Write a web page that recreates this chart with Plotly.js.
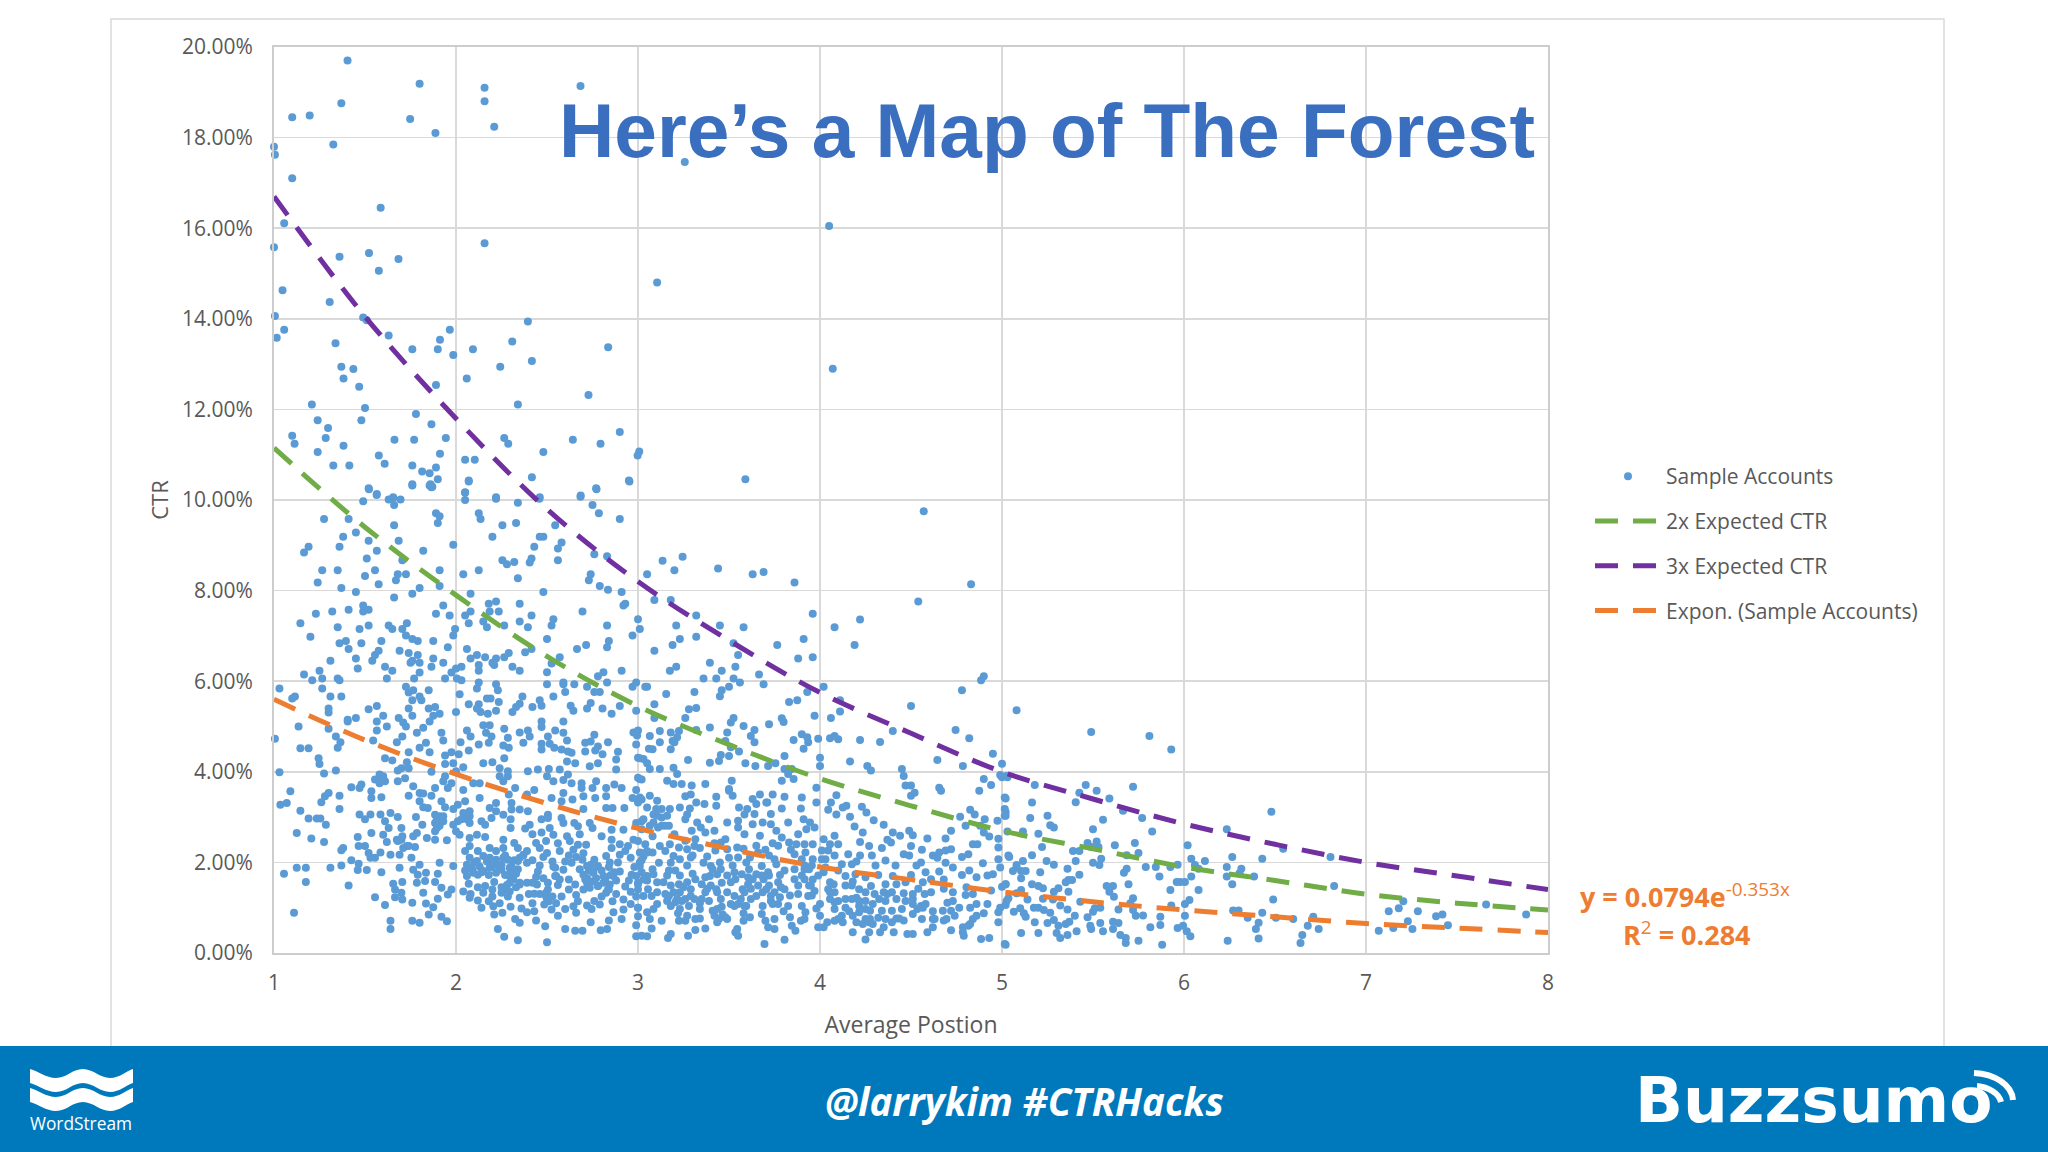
<!DOCTYPE html>
<html><head><meta charset="utf-8">
<script src="https://cdn.plot.ly/plotly-3.0.1.min.js"></script>
<style>html,body{margin:0;padding:0;background:#fff}#chart{width:2048px;height:1152px}</style>
</head><body><div id="chart"></div>
<script>
const curveX = [1,1.5,2,2.5,3,3.5,4,4.5,5,5.5,6,6.5,7,7.5,8];
const expected2x = [11.15,9.4,7.9,6.55,5.45,4.6,3.85,3.25,2.7,2.3,1.9,1.6,1.3,1.1,0.95];
const expected3x = [16.7,14.05,11.8,9.8,8.2,6.9,5.75,4.85,4.0,3.4,2.85,2.4,2.0,1.7,1.4];
const exponFit = [5.6,4.7,3.95,3.3,2.75,2.3,1.9,1.62,1.35,1.13,0.95,0.8,0.65,0.55,0.45];
const yTicks = [0,2,4,6,8,10,12,14,16,18,20];
const xTicks = [1,2,3,4,5,6,7,8];
const sampleAccounts = [
[1.404,19.7],[1.8,19.19],[1.37,18.76],[1.1,18.45],[1.196,18.49],[1.748,18.41],[1.887,18.1],[2.157,19.1],[2.157,18.8],[2.21,18.24],[2.684,19.14],[3.257,17.46],[1,17.8],[1.005,17.62],[1.326,17.85],[1.1,17.1],[1.586,16.45],[1.056,16.11],[1,15.58],[1.36,15.37],[1.522,15.45],[1.576,15.06],[1.684,15.32],[2.157,15.67],[3.105,14.8],[1.047,14.63],[1.306,14.37],[1.005,14.06],[1.056,13.76],[1.015,13.58],[1.49,14.03],[1.51,13.97],[1.63,13.63],[2.395,13.94],[1.966,13.76],[1.912,13.54],[1.9,13.33],[1.76,13.33],[1.338,13.46],[1.37,12.94],[1.436,12.89],[1.382,12.68],[1.468,12.5],[1.985,13.2],[2.093,13.33],[2.309,13.5],[2.243,12.94],[2.417,13.07],[2.836,13.37],[1.89,12.54],[2.059,12.68],[2.728,12.32],[2.34,12.11],[1.208,12.11],[1.5,12.03],[1.78,11.9],[1.48,11.76],[1.24,11.76],[1.865,11.67],[1.297,11.59],[2.9,11.5],[1.1,11.42],[1.284,11.37],[1.944,11.37],[2.265,11.37],[1.662,11.33],[1.77,11.33],[2.642,11.33],[1.113,11.24],[2.287,11.24],[2.794,11.24],[1.382,11.2],[1.24,11.06],[2.48,11.06],[3.007,11.07],[2.998,10.98],[1.912,11.02],[1.576,10.98],[1.608,10.8],[2.05,10.89],[2.103,10.89],[1.326,10.76],[1.414,10.76],[1.76,10.76],[1.89,10.72],[1.814,10.63],[1.855,10.59],[1.9,10.46],[2.417,10.5],[2.07,10.41],[2.953,10.41],[3.59,10.46],[1.76,10.32],[1.855,10.32],[1.865,10.28],[1.522,10.24],[2.772,10.24],[1.564,10.11],[2.05,10.16],[1.654,10.04],[2.22,10.03],[2.684,10.07],[2.458,10.03],[4.05,16.05],[4.07,12.9],
[1.52,10.26],[1.565,10.13],[1.76,10.35],[1.86,10.35],[1.87,10.29],[2.07,10.43],[2.05,10.17],[2.05,10],[2.22,10.06],[2.46,10.06],[2.685,10.1],[2.77,10.26],[2.95,10.43],[1.49,9.97],[1.63,10.01],[1.655,10.06],[1.695,10.01],[1.66,9.89],[2.34,9.94],[2.75,9.89],[2.785,9.71],[1.275,9.58],[1.41,9.58],[1.89,9.71],[1.91,9.64],[1.9,9.49],[2.125,9.71],[2.135,9.58],[2.9,9.58],[1.66,9.44],[2.255,9.44],[2.33,9.49],[2.545,9.44],[1.45,9.28],[1.38,9.19],[2.2,9.19],[2.46,9.19],[2.48,9.19],[1.52,9.1],[1.685,9.1],[2.58,9.06],[2.56,8.93],[2.43,8.97],[1.19,8.97],[1.165,8.84],[1.36,8.97],[1.985,9.01],[1.565,8.88],[1.82,8.88],[1.51,8.71],[1.705,8.67],[2.255,8.67],[2.28,8.58],[2.32,8.63],[2.415,8.71],[2.405,8.62],[2.56,8.67],[2.76,8.8],[2.83,8.76],[1.265,8.45],[1.35,8.45],[1.555,8.45],[1.91,8.45],[2.125,8.45],[2.04,8.36],[2.34,8.27],[2.74,8.36],[2.73,8.23],[1.24,8.18],[1.5,8.32],[1.68,8.36],[1.725,8.36],[1.67,8.23],[1.575,8.14],[1.91,8.1],[1.37,8.06],[2.79,8.1],[2.835,8.02],[3.05,8.36],[1.45,7.97],[1.8,8.06],[1.76,7.93],[1.66,7.85],[2.08,7.93],[2.48,7.97],[2.91,7.97],[1.49,7.67],[1.49,7.54],[1.52,7.58],[1.41,7.58],[1.32,7.54],[1.23,7.49],[1.93,7.67],[1.89,7.49],[1.965,7.45],[2.18,7.71],[2.22,7.76],[2.185,7.54],[2.235,7.54],[2.35,7.71],[2.415,7.45],[2.695,7.54],[2.93,7.71],[2.92,7.67],[2.05,7.45],[2.08,7.54],[1.145,7.28],[1.35,7.19],[1.47,7.15],[1.52,7.23],[1.63,7.23],[1.65,7.15],[1.73,7.28],[1.705,7.15],[2.07,7.28],[2.15,7.32],[2.17,7.19],[2.265,7.23],[2.35,7.32],[2.395,7.19],[2.535,7.37],[2.525,7.23],[2.83,7.23],[3,7.37],[3.01,7.15],[1.995,7.15],[1.985,7.01],[1.2,6.98],[1.725,7.01],[1.76,6.93],[1.79,6.89],[1.395,6.89],[1.36,6.84],[1.48,6.84],[1.59,6.89],[1.875,6.89],[1.955,6.75],[2.5,6.93],[2.84,6.89],[2.83,6.75],[2.97,7.01],[1.41,6.71],[1.69,6.67],[1.575,6.67],[1.555,6.58],[1.54,6.45],[1.74,6.62],[1.79,6.58],[1.76,6.45],[1.75,6.41],[2.06,6.71],[2.665,6.71],[2.715,6.8],[2.38,6.64],[2.415,6.71],[2.08,6.5],[2.115,6.58],[2.16,6.53],[2.29,6.62],[2.265,6.53],[2.22,6.5],[2.2,6.41],[2.57,6.53],[1.45,6.5],[1.31,6.45],[1.8,6.41],[1.875,6.5],[1.865,6.32],[1.93,6.41],[2.525,6.39],[2.125,6.36],[2.125,6.23],[2.21,6.36],[2.31,6.32],[1.61,6.32],[1.65,6.23],[1.46,6.28],[1.25,6.23],[1.165,6.15],[1.8,6.19],[2.03,6.32],[2,6.28],[1.975,6.19],[2.35,6.23],[2.5,6.2],[2.91,6.23],[2.81,6.2],[2.78,6.11],[1.21,6.02],[1.265,6.06],[1.35,6.06],[1.36,6.02],[1.62,6.06],[1.77,6.06],[1.94,6.06],[2.005,6.06],[2.03,6.02],[1.03,5.84],[1.265,5.84],[2.125,5.97],[2.115,5.84],[2.22,5.93],[2.23,5.8],[2.5,5.93],[2.59,5.97],[2.59,5.93],[2.65,5.93],[2.72,5.88],[2.83,5.97],[2.99,5.97],[2.97,5.88],[3.05,5.88],[1.725,5.88],[1.74,5.75],[1.765,5.8],[1.85,5.8],[2.02,5.71],[2.6,5.76],[2.76,5.76],[2.79,5.76],[1.115,5.66],[1.1,5.62],[1.31,5.66],[1.37,5.66],[1.8,5.66],[1.81,5.58],[1.76,5.58],[2.17,5.62],[2.19,5.62],[2.365,5.66],[2.535,5.66],[2.07,5.49],[2.235,5.54],[2.125,5.49],[2.115,5.4],[2.135,5.32],[2.35,5.5],[2.33,5.43],[2.31,5.32],[2.46,5.58],[2.42,5.43],[2.47,5.46],[2.63,5.46],[2.645,5.35],[2.74,5.52],[2.72,5.4],[2.805,5.4],[2.9,5.45],[2.99,5.35],[2.855,5.28],[1.565,5.45],[1.52,5.38],[1.3,5.4],[1.3,5.31],[1.74,5.4],[1.76,5.24],[1.85,5.4],[1.885,5.43],[1.91,5.28],[1.875,5.24],[2,5.32],[2.22,5.35],[2.175,5.28],[1.45,5.19],[1.6,5.24],[1.685,5.19],[1.405,5.15],
[4.57,9.75],[3.135,8.66],[3.245,8.75],[3.2,8.45],[3.44,8.49],[3.63,8.36],[3.69,8.41],[3.86,8.18],[4.83,8.14],[4.54,7.76],[3.09,7.79],[3.18,7.79],[3.32,7.45],[3.96,7.49],[4.22,7.36],[4.08,7.19],[3.21,7.23],[3.45,7.23],[3.58,7.19],[3.32,6.98],[3.23,6.93],[3.19,6.8],[3.91,6.93],[3.525,6.84],[3.765,6.8],[4.19,6.8],[3.09,6.67],[3.55,6.58],[3.88,6.5],[3.96,6.53],[3.395,6.41],[3.535,6.32],[3.21,6.32],[3.175,6.23],[3.46,6.23],[3.665,6.15],[4.9,6.11],[4.885,6.02],[3.36,6.06],[3.43,6.06],[3.525,6.06],[3.56,5.97],[3.69,5.93],[4.02,5.88],[3.5,5.88],[3.04,5.88],[4.78,5.8],[3.46,5.8],[3.45,5.67],[3.31,5.76],[3.155,5.72],[3.93,5.76],[4.11,5.58],[3.875,5.58],[3.83,5.54],[3.09,5.49],[4.5,5.45],[3.32,5.41],[3.28,5.38],[4.11,5.33],[5.08,5.36],[3.97,5.24],[4.06,5.19],[3.525,5.19],[3.26,5.19],[3.79,5.18],[3.09,5.19],
[1.135,5],[1.3,4.95],[1.405,5.11],[1.565,5.11],[1.565,4.91],[1.62,5],[1.71,5.09],[1.725,5],[1.705,4.78],[1.785,4.86],[1.82,4.97],[1.855,5.11],[1.92,4.86],[1.93,4.69],[1.005,4.73],[1.34,4.78],[1.365,4.65],[1.35,4.53],[1.545,4.69],[1.675,4.65],[1.145,4.52],[1.19,4.52],[1.835,4.64],[1.8,4.53],[1.855,4.43],[1.74,4.43],[2.06,4.91],[2.08,4.78],[2.15,5.03],[2.185,5.03],[2.165,4.86],[2.195,4.78],[2.18,4.64],[2.265,4.95],[2.35,4.87],[2.395,4.91],[2.405,4.78],[2.37,4.64],[2.285,4.75],[2.26,4.58],[2.29,4.53],[2.125,4.6],[2.025,4.65],[2.07,4.47],[1.975,4.43],[2.015,4.39],[1.94,4.36],[2.47,5.11],[2.47,4.99],[2.59,5.11],[2.545,4.91],[2.59,4.86],[2.505,4.78],[2.61,4.69],[2.47,4.62],[2.515,4.62],[2.54,4.53],[2.47,4.49],[2.58,4.49],[2.615,4.45],[2.635,4.42],[2.76,4.82],[2.71,4.64],[2.74,4.67],[2.78,4.56],[2.71,4.45],[2.765,4.47],[2.805,4.39],[2.835,4.65],[2.89,4.44],[2.975,4.87],[3,4.91],[2.995,4.8],[2.99,4.6],[3.01,4.3],[2.88,4.27],[1.245,4.3],[1.25,4.17],[1.275,3.96],[1.03,3.99],[1.34,4.03],[1.61,4.3],[1.65,4.25],[1.73,4.21],[1.7,4.08],[1.68,4.03],[1.74,4.08],[1.865,4],[1.94,4.17],[1.94,3.9],[1.985,4.19],[2.04,4.1],[2,4.01],[1.93,3.79],[1.975,3.75],[1.955,3.64],[2.15,4.19],[2.2,4.21],[2.265,4.3],[2.24,4.08],[2.285,4.01],[2.24,3.9],[2.26,3.79],[2.285,3.9],[2.13,3.75],[2.095,3.75],[2.04,3.6],[2.05,3.35],[2.01,3.27],[2.395,4.01],[2.45,4.05],[2.51,4.06],[2.57,4.05],[2.615,3.94],[2.5,3.9],[2.535,3.79],[2.59,3.82],[2.635,3.75],[2.61,4.23],[2.655,4.19],[2.735,4.12],[2.78,4.19],[2.88,4.05],[3.02,3.83],[3.05,4.19],[2.69,3.75],[2.69,3.64],[2.77,3.79],[2.75,3.64],[2.825,3.64],[2.87,3.72],[2.91,3.64],[2.7,3.46],[2.765,3.42],[2.825,3.46],[2.99,3.6],[2.97,3.42],[3.02,3.39],[1.58,3.94],[1.555,3.83],[1.61,3.79],[1.58,3.75],[1.68,3.79],[1.72,3.86],[1.765,3.68],[1.8,3.53],[1.82,3.52],[1.865,3.47],[1.425,3.66],[1.47,3.64],[1.48,3.72],[1.535,3.57],[1.535,3.42],[1.59,3.44],[1.3,3.53],[1.28,3.46],[1.26,3.33],[1.36,3.47],[1.36,3.18],[1.09,3.57],[1.74,3.47],[1.885,3.64],[1.07,3.31],[1.035,3.27],[1.145,3.14],[1.19,2.97],[1.235,2.97],[1.255,2.97],[1.285,2.83],[1.125,2.65],[1.205,2.53],[1.275,2.45],[1.8,3.35],[1.82,3.22],[1.845,3.2],[1.92,3.35],[1.94,3.22],[1.985,3.18],[1.47,3.06],[1.5,2.95],[1.53,3.06],[1.585,3.06],[1.64,3.09],[1.68,3],[1.78,3],[1.61,2.91],[1.63,2.76],[1.885,3.05],[1.91,3.02],[1.93,2.91],[1.885,2.87],[1.91,2.81],[1.815,2.83],[1.885,2.69],[1.84,2.54],[1.885,2.5],[1.95,2.49],[2.075,3.13],[2.06,2.95],[2.01,2.91],[1.985,2.83],[2.075,2.87],[2,2.69],[2.02,2.61],[2.14,2.91],[2.16,2.83],[2.195,2.98],[2.185,3.2],[2.22,3.13],[2.26,3.05],[2.305,3.17],[2.35,3.17],[2.395,3.13],[2.13,3.42],[2.22,3.31],[2.29,3.5],[2.305,3.31],[2.325,3.64],[2.43,3.6],[2.39,3.5],[2.525,3.42],[2.59,3.53],[2.58,3.35],[2.64,3.39],[2.7,3.18],[2.825,3.2],[2.86,3.2],[2.925,3.2],[2.3,2.95],[2.3,2.76],[2.405,2.83],[2.505,3.05],[2.47,2.95],[2.505,2.98],[2.58,2.98],[2.59,2.87],[2.65,2.87],[2.67,2.8],[2.735,2.87],[2.75,2.76],[2.515,2.76],[2.535,2.61],[2.495,2.47],[2.44,2.43],[2.855,2.72],[2.855,2.5],[2.855,2.32],[2.975,2.5],[2.945,2.36],[2.99,2.87],[3.02,2.91],[2.115,2.61],[2.075,2.54],[2.16,2.56],[2.26,2.5],[2.32,2.43],[1.46,2.56],[1.535,2.65],[1.6,2.61],[1.62,2.45],[1.7,2.76],[1.705,2.58],[1.68,2.47],[1.765,2.58],[1.74,2.36],[1.71,2.32],[1.785,2.65],[1.775,2.34],[1.465,2.36],[1.5,2.36],[1.38,2.32],[1.37,2.27],[1.585,2.22],[1.64,2.17],[1.69,2.17],[1.755,2.1],[1.52,2.21],[1.53,2.1],[1.555,2.1],[1.425,2.05],[1.465,1.97],[1.46,1.83],[1.51,1.83],[1.59,1.78],[1.31,1.88],[1.37,1.93],[1.125,1.88],[1.175,1.88],[1.055,1.75],[1.175,1.57],[1.41,1.49],[1.11,0.89],[1.69,1.88],[1.765,1.84],[1.8,1.95],[1.79,1.73],[1.835,1.77],[1.785,1.55],[1.83,1.59],[1.91,1.99],[1.9,1.75],[1.985,1.92],[1.885,1.57],[1.705,1.57],[1.655,1.53],[1.665,1.4],[1.7,1.33],[1.665,1.23],[1.705,1.18],[1.92,1.44],[1.975,1.4],[1.955,1.29],[1.82,1.33],[1.555,1.23],[1.9,1.2],[1.76,1.11],[1.61,1.06],[1.835,1.09],[1.875,1.01],[1.85,0.85],[1.92,0.8],[1.95,0.7],[1.64,0.71],[1.64,0.53],[1.76,0.71],[1.8,0.67],
[2.075,2.36],[2.05,2.25],[2.12,2.25],[2.185,2.32],[2.22,2.25],[2.26,2.32],[2.34,2.32],[2.39,2.25],[2.075,2.1],[2.15,2.14],[2.22,2.06],[2.285,2.06],[2.35,2.1],[2.46,2.32],[2.5,2.21],[2.57,2.25],[2.625,2.47],[2.67,2.39],[2.715,2.39],[2.645,2.28],[2.06,1.95],[2.13,1.91],[2.185,1.88],[2.25,1.95],[2.305,1.91],[2.39,1.99],[2.46,1.93],[2.535,1.91],[2.59,1.84],[2.635,1.99],[2.695,2.06],[2.76,2.06],[2.825,2.14],[2.9,2.17],[2.06,1.7],[2.12,1.73],[2.22,1.77],[2.295,1.7],[2.545,1.7],[2.7,1.73],[2.755,1.77],[2.81,1.7],[2.9,1.8],[2.965,1.73],[2.07,1.53],[2.21,1.57],[2.35,1.51],[2.42,1.55],[2.315,1.62],[2.505,1.55],[2.655,1.51],[2.72,1.55],[2.81,1.55],[2.845,1.51],[2.93,1.47],[3,1.55],[2.04,1.36],[2.15,1.33],[2.25,1.33],[2.295,1.36],[2.35,1.22],[2.43,1.31],[2.495,1.33],[2.7,1.4],[2.825,1.33],[2.86,1.14],[2.99,1.25],[2.92,1.18],[2.075,1.22],[2.12,1.16],[2.18,1.14],[2.205,1.03],[2.24,1.1],[2.42,1.1],[2.485,1.07],[2.525,0.96],[2.6,0.97],[2.67,1.14],[2.645,1.03],[2.745,0.97],[2.79,1.07],[2.865,0.9],[2.92,0.96],[3,1],[2.39,0.9],[2.43,0.92],[2.21,0.85],[2.255,0.89],[2.66,0.89],[2.91,0.75],[3,0.81],[2.325,0.75],[2.35,0.67],[2.23,0.53],[2.49,0.59],[2.6,0.53],[2.655,0.49],[2.695,0.49],[2.795,0.5],[2.83,0.53],[2.99,0.61],[2.99,0.37],[3.05,0.37],[2.265,0.36],[2.34,0.28],[2.5,0.24],[2.1,2],[2.17,2.02],[2.2,1.98],[2.27,2.15],[2.32,2.05],[2.37,2.15],[2.42,2.05],[2.24,1.85],[2.3,1.8],[2.34,1.85],[2.14,1.78],[2.18,1.72],[2.27,1.72],[2.33,1.75],[2.05,1.82],[2.09,1.85],[2.62,2.15],[2.66,2.12],[2.7,2.2],[2.74,1.95],[2.78,1.9],[2.73,1.82],[2.77,1.65],[2.8,1.82],[2.84,1.9],[2.87,1.78],[2.72,1.65],[2.75,1.58],[2.78,1.48],[2.82,1.62],[2.85,1.72],[2.88,1.6],[2.84,1.4],[2.88,1.3],[2.8,1.25],[2.76,1.15],[2.95,1.6],[2.98,1.9],[3.02,2.05],[2.96,2.1],[2.93,2.25],[2.9,2.4],[2.56,1.5],[2.5,1.2],[2.46,1.3],[2.53,1.25],[2.55,1.1],[2.48,1.65],[2.45,1.8],[2.4,1.3],[2.33,1.45],[2.28,1.5],[2.25,1.45],[2.2,1.4],[2.16,1.48],[2.12,1.45],[2.08,1.3],
[3.32,4.92],[3.395,4.98],[3.51,5.09],[3.49,4.87],[3.48,4.68],[3.58,5.01],[3.72,5.05],[3.8,5.1],[3.64,4.92],[3.62,4.79],[3.64,4.65],[3.065,4.79],[3.12,4.9],[3.12,4.65],[3.18,4.87],[3.225,4.9],[3.215,4.76],[3.19,4.68],[3.2,4.65],[3.18,4.5],[3.06,4.51],[3.08,4.5],[3.51,4.54],[3.555,4.45],[3.455,4.37],[3.445,4.24],[3.5,4.35],[3.395,4.2],[3.275,4.26],[3.59,4.19],[3.645,4.13],[3.715,4.13],[3.755,4.19],[3.805,4.35],[3.855,4.7],[3.9,4.83],[3.93,4.76],[3.935,4.65],[3.91,4.51],[3.99,4.73],[4.08,4.79],[4.055,4.74],[4.1,4.72],[4.22,4.7],[4.33,4.66],[4.4,4.9],[4.745,4.92],[4.82,4.74],[4.95,4.4],[5,4.18],[4.645,4.26],[4.785,4.13],[4,4.31],[4,4.13],[4.165,4.23],[4.26,4.13],[4.28,4.03],[4.45,4.06],[4.46,3.91],[4.47,3.7],[4.5,3.7],[4.52,3.54],[4.5,3.47],[4.655,3.65],[4.665,3.58],[4.875,3.58],[4.9,3.84],[4.94,3.71],[4.99,3.93],[5.025,3.91],[3.805,4.06],[3.845,4.06],[3.825,3.95],[3.855,3.84],[3.79,3.8],[3.98,3.65],[4.09,3.48],[3.98,3.32],[4.06,3.32],[4.045,3.16],[4.09,3.06],[4.145,3.25],[4.125,3.21],[4.165,3.01],[4.23,3.23],[4.255,3.1],[4.295,2.93],[4.35,2.83],[4.19,2.79],[4.235,2.66],[3.9,3.43],[3.805,3.45],[3.74,3.5],[3.67,3.5],[3.63,3.4],[3.895,3.19],[3.79,3.19],[3.705,3.32],[3.73,3.07],[3.64,3.07],[3.63,2.84],[3.685,2.88],[3.73,2.84],[3.825,2.88],[3.91,2.95],[3.945,2.88],[3.97,2.77],[3.925,2.73],[3.88,2.62],[3.87,2.4],[3.76,2.7],[3.79,2.55],[3.77,2.37],[3.83,2.44],[3.67,2.59],[3.585,2.62],[5.015,3.43],[5.015,3.18],[5.015,3.03],[4.975,2.92],[4.905,2.95],[4.88,2.81],[4.9,2.66],[4.93,2.57],[4.98,2.52],[4.98,2.33],[4.98,2.07],[5.035,2.15],[4.825,3.16],[4.85,3.06],[4.77,3.01],[4.8,2.81],[4.84,2.4],[4.865,2.4],[4.815,2.18],[4.72,2.7],[4.69,2.53],[4.59,2.53],[4.49,2.7],[4.51,2.6],[4.44,2.59],[4.4,2.66],[4.37,2.5],[4.39,2.44],[4.5,2.36],[4.22,2.45],[4.27,2.36],[4.22,2.15],[4.285,2.15],[4.155,2.18],[4.08,2.59],[4.1,2.4],[4.055,2.4],[4.02,2.51],[4.01,2.26],[4.045,2.26],[4.01,2.07],[3.96,2.4],[3.915,2.4],[4.62,2.15],[4.655,2.22],[4.69,2.26],[4.72,2.29],[4.69,1.99],[4.645,2.1],[4.46,2.18],[4.49,2.15],[4.415,1.93],[4.36,2.04],[4.305,1.93],[4.555,2],[4.53,1.93],[4.655,1.8],[4.73,1.89],[4.895,1.98],[4.99,1.89],[5.08,1.89],[4.86,1.67],[4.92,1.71],[4.95,1.74],[5.02,1.52],[4.805,1.45],[4.12,1.96],[4.175,1.96],[4.14,1.7],[4.195,1.74],[4.25,1.67],[4.36,1.52],[4.42,1.52],[4.47,1.56],[4.35,1.34],[4.42,1.19],[4.565,1.56],[4.61,1.63],[4.61,1.34],[4.575,1.3],[4.51,1.3],[4.51,1.08],[4.555,1.04],[4.58,1.08],[4.51,0.86],[4.45,0.97],[4.73,1.34],[4.73,1.15],[4.765,1],[4.675,0.93],[4.74,0.82],[4.695,0.75],[4.84,1.3],[4.86,1.08],[4.825,1],[4.84,0.75],[4.785,0.57],[4.825,0.64],[4.56,0.75],[4.42,0.76],[4.435,0.76],[4.34,0.93],[4.395,0.93],[4.63,0.75],[4.62,0.57],[4.59,0.46],[4.72,0.5],[4.35,0.57],[4.33,0.46],[4.405,0.46],[4.48,0.42],[4.51,0.42],[4.885,0.31],[4.93,0.33],[4.79,0.38],[4.98,0.68],[4.98,0.9],[5.025,1.15],[4.99,1],[5.015,0.2],[4.25,0.3],[4.18,0.46],[4.27,0.46],[4.275,0.75],[4.215,0.9],[4.25,0.97],[4.27,0.68],[4.175,1.19],[4.215,1.15],[4.29,1.08],[4.08,1.34],[4.055,1.56],[4.055,1.34],[4.1,1.15],[4.08,0.97],[4.02,0.57],[3.99,0.57],[4.04,0.68],[4.1,0.75],[4.12,0.82],[3.99,1.71],[3.94,1.85],[3.9,1.71],[3.94,1.49],[3.955,1.27],[4,1.08],[3.88,1.49],[3.835,1.27],[3.915,0.75],[3.895,0.71],[3.835,0.79],[3.845,0.6],[3.865,0.49],[3.805,0.29],[3.75,0.75],[3.75,0.53],[3.7,0.71],[3.715,0.57],[3.695,0.2],[3.9,1.04],[3.825,1.04],[3.78,1.23],[3.74,1.08],[3.705,1.41],[3.69,1.63],[3.66,1.49],[3.72,1.71],[3.77,1.56],[3.805,1.41],[3.73,1.26],[3.685,1.04],[3.65,1.26],[3.605,1.67],[3.575,1.41],[3.565,1.19],[3.595,1.04],[3.615,0.79],[3.58,0.71],[3.53,1.04],[3.545,0.53],[3.55,0.38],[3.535,0.46],[3.435,0.97],[3.48,0.79],[3.435,0.68],[3.41,0.93],[3.37,0.54],[3.315,0.51],[3.275,0.38],[3.18,0.42],[3.165,0.33],[3.02,0.38],[3.075,0.54],[3.13,0.71],[3.065,0.75],[3.05,0.9],[3.085,0.97],[3,1],[3.225,0.71],[3.26,0.71],[3.27,0.82],[3.23,0.97],[3.315,0.75],[3.34,0.76],[3.18,1.04],[3.205,1.12],[3.24,1.15],[3.28,1.04],[3.17,1.26],[3.23,1.34],[3.29,1.41],[3.27,1.56],[3.315,1.63],[3.225,1.52],[3.18,1.49],[3.15,1.3],[3.055,1.41],[3.075,1.26],[3.14,1.56],[3.17,1.82],[3.085,1.74],[3.05,1.6],[3,1.52],[3.35,1.52],[3.37,1.67],[3.435,1.34],[3.455,1.19],[3.435,1.74],[3.41,1.85],[3.51,1.56],[3.535,1.63],[3.51,1.08],[3.37,1.34],[3.27,1.93],[3.29,2.11],[3.27,2.29],[3.31,2.36],[3.36,1.99],[3.38,2.13],[3.23,2.07],[3.195,2.14],[3.12,2.36],[3.15,2.25],[3.05,2.25],[3.04,2.4],[3.01,2],[3.03,2.13],[3,2.47],[3.52,1.93],[3.55,2.11],[3.545,2.33],[3.48,2.51],[3.455,2.44],[3.49,2.29],[3.425,2.26],[3.42,2.7],[3.37,2.66],[3.345,2.77],[3.315,2.51],[3.455,1.85],[3.45,2],[3.595,2],[3.615,2.11],[3.66,2.22],[3.65,2.37],[3.75,2.07],[3.76,1.96],[3.72,2.15],[3.65,1.74],[3.61,1.85],[3.715,1.78],[3.805,1.82],[3.86,1.85],[3.915,1.85],[3.01,3.84],[3,3.87],[3.16,3.8],[3.195,3.73],[3.24,3.73],[3.295,3.7],[3.37,3.73],[3.195,4.09],[3.215,3.95],[3.065,4.06],[3.12,4.06],[3.03,4.28],[3,4.31],[3.515,3.8],[3.5,3.62],[3.52,3.47],[3.43,3.45],[3.43,3.25],[3.32,3.32],[3.365,3.29],[3.29,3.5],[3.26,3.46],[3.23,3.21],[3.285,3.19],[3.27,3.06],[3.26,2.95],[3.065,3.47],[3.105,3.36],[3.13,3.18],[3.105,3.03],[3.085,2.88],[3.13,2.81],[3.05,3.21],[3,3.32],[3.01,3.43],[3.175,3.18],[3.16,3.03],[3.17,2.81],[3.39,2.95],[3.325,2.88],[3.295,2.7],[3.49,2.88],[3.55,2.92],[3.55,2.77],[3.5,3.58],[3.555,3.21],[3.6,3.18],[3.585,3.06],[3.65,3.29],[3.71,3.32],
[5.49,4.88],[5.81,4.79],[5.93,4.49],[6.48,3.12],[5,3.88],[5.03,3.88],[5.18,3.71],[5.46,3.71],[5.52,3.58],[5.425,3.54],[5.59,3.41],[5.405,3.33],[5.72,3.67],[5.02,3.41],[5.165,3.32],[5.665,3.14],[5.02,3.11],[5.02,3.03],[5.25,3.03],[5.155,2.98],[5.77,2.98],[5.555,2.94],[5.265,2.82],[5.285,2.77],[6.235,2.73],[5.5,2.73],[5.825,2.68],[5.115,2.68],[5.03,2.68],[5.2,2.63],[5.47,2.43],[5.52,2.46],[5.53,2.34],[5.49,2.34],[5.62,2.38],[5.73,2.43],[6.02,2.38],[5.22,2.34],[5.39,2.25],[5.425,2.25],[5.75,2.21],[5.685,2.16],[5.165,2.16],[5.04,2.12],[6.545,2.3],[6.265,2.12],[6.04,2.08],[6.805,2.12],[6.43,2.08],[6.115,2.03],[6.06,1.94],[6.08,1.86],[5.405,2.03],[5.545,2.08],[5.5,1.99],[5.535,1.94],[5.245,2.03],[5.285,1.95],[5.115,2.03],[5.08,1.94],[5.79,1.9],[5.845,1.9],[5.925,1.9],[5.965,1.95],[6.235,1.9],[6.315,1.86],[6.305,1.76],[5.06,1.81],[5.105,1.81],[5.13,1.81],[5.36,1.86],[5.685,1.86],[5.67,1.77],[5.21,1.78],[5.425,1.73],[5.105,1.65],[5.865,1.69],[6.04,1.69],[6.235,1.69],[6.385,1.69],[5.98,1.57],[6.005,1.57],[5.96,1.57],[5.385,1.61],[5.35,1.56],[5.365,1.61],[5.695,1.52],[5.02,1.52],[5,1.46],[5.165,1.52],[5.2,1.48],[5.225,1.43],[6.265,1.52],[5.575,1.48],[5.61,1.48],[5.59,1.35],[6.825,1.48],[6.08,1.39],[5.925,1.39],[5.31,1.43],[5.285,1.35],[5.365,1.35],[5.105,1.39],[5.615,1.24],[5.72,1.21],[5.705,1.1],[6.49,1.18],[6.03,1.17],[6.005,1.08],[5.43,1.13],[5.035,1.21],[5.02,1.06],[5.225,1.2],[5.32,1.05],[5.93,1.05],[5.51,0.99],[5.54,1],[5.5,0.91],[5.36,0.96],[5.64,0.96],[5.175,1],[5.2,1],[5.1,0.99],[5.065,0.91],[5.12,0.88],[5.13,0.8],[5.23,0.95],[5.265,0.89],[5.72,0.95],[5.735,0.82],[5.775,0.83],[6.27,0.94],[6.3,0.94],[6.43,0.89],[6.005,0.82],[6.35,0.78],[6.505,0.78],[6.6,0.75],[6.71,0.8],[6.41,0.67],[6.395,0.53],[6.68,0.6],[6.74,0.53],[6.65,0.4],[6.64,0.22],[6.41,0.32],[6.24,0.27],[6.035,0.37],[5.965,0.55],[5.995,0.6],[6.015,0.48],[5.87,0.8],[5.87,0.62],[5.815,0.57],[5.88,0.18],[5.75,0.27],[5.68,0.33],[5.68,0.22],[5.65,0.4],[5.61,0.69],[5.64,0.66],[5.61,0.53],[5.555,0.48],[5.54,0.66],[5.47,0.79],[5.485,0.6],[5.49,0.53],[5.37,0.69],[5.35,0.64],[5.41,0.48],[5.36,0.4],[5.32,0.33],[5.3,0.44],[5.25,0.66],[5.285,0.73],[5.31,0.6],[5.2,0.44],[5.105,0.44],[5.02,0.18],
[7.125,0.92],[7.18,0.99],[7.205,1.14],[7.285,0.92],[7.07,0.49],[7.15,0.55],[7.23,0.7],[7.255,0.53],[7.385,0.81],[7.42,0.85],[7.45,0.61],[7.66,1.07],[7.88,0.85],
[3.1,3.18],[3.085,3.06],[3.13,2.99],[3.065,2.81],[3.11,2.77],[3.15,2.81],[3.03,2.95],[3.02,2.73],[3.05,2.22],[3.01,2.22],[3.25,1.45],[3.29,1.26],[3.26,1.19],[3.31,1.19],[3.195,1.34],[3.215,1.19],[3.105,1.34],[3.105,1.08],[3.03,1.26],[3.685,1.34],[3.72,1.49],[3.75,1.34],[3.785,1.45],[3.73,1.15],[3.77,1.08],[3.86,1.63],[3.915,1.63],[3.95,1.49],[3.97,1.37],[3.88,1.3],[3.935,1.26],[4.045,1.41],[4.075,1.52],[4.055,1.19],[4.215,1.04],[4.25,1.15],[4.275,0.93],[4.25,0.75],[4.29,0.64],[4.235,0.64],[4.2,0.68],[4.18,0.82],[4.125,0.68],[4.08,0.71],[4.51,1.19],[4.535,0.97],[4.565,1],[4.47,1.15],[4.395,1.34],[4.37,1.3],[4.7,1.11],[4.72,0.93],[4.62,0.75],[4.86,0.82],[4.815,0.6],[4.785,0.46],[3.42,0.82],[3.465,0.85],[3.445,0.75],[3.49,0.75],[3.55,1.08],[3.585,1.04],[3.62,1.19],[3.585,1.34],[3.605,1.52],[3.63,1.63],[3.68,1.71],[3.57,1.74],[3.53,1.78],[3.49,1.71],[3.395,1.7],[3.4,1.49],[3.43,1.41],[3.49,1.34],[3.53,1.26],[3.35,1.19],[3.39,1.15],[3.34,0.97],[3.23,1.71],[3.205,1.82],[3.16,1.71],[3.105,1.56],[3.05,1.7],[3.02,1.78],[3.18,1.99],[3.115,1.99],[3.08,1.85],[3.08,2.22],[3.175,2.4],[3.225,2.33],[3.86,2.18],[3.9,2.07],[3.96,2.07],[3.915,1.93],[3.955,1.93],[4.03,2.07],[4.03,1.89],[4.08,2.15],[4.14,1.49],[4.175,1.49],[4.215,1.41],[4.25,1.34],[4.14,1.19],[4.14,1],[4.395,0.68],[4.325,1.19],[4.36,1.15],[4.36,0.75],
[3.03,2.2],[3.01,1.92],[3.03,1.62],[2.99,1.7],[3,1.4],[2.72,1.92],[2.745,1.81],[2.71,1.62],[2.68,1.85],[2.78,1.92],[2.78,1.48],[2.735,1.44],[2.845,2],[2.865,1.7],[2.835,1.4],[2.89,2],[2.185,2.1],[2.22,1.95],[2.195,1.91],[2.26,2.1],[2.25,1.84],[2.295,1.88],[2.32,1.84],[2.37,2.17],[2.34,2.03],[2.295,1.55],[2.26,1.4],[2.285,1.25],[2.35,1.55],[2.39,1.55],[2.445,1.51],[2.115,2.03],[2.15,1.81],[2.075,1.88],[2.095,1.77],[2.495,1.25],[2.505,1.4],[2.51,1.14],[2.55,1.7],[2.57,1.62],[2.545,1.88],[1.895,2.95],[1.93,3.02],[1.895,2.76],[2.06,3.02],[2.03,2.95],[2.075,3.02],[2.04,3.09],[1.7,2.5],[1.73,2.36],[1.675,2.5],[1.58,3.83],[1.6,3.9],
[2.42,2.62],[2.38,2.75],[2.47,2.66],[2.56,2.42],[2.61,2.58],[2.68,2.62],[2.8,2.58],[2.92,2.72],[2.48,2.12],[2.53,2.02],[2.6,2.02],[2.44,1.68],[2.62,1.62],[2.62,1.4],[2.58,1.25],[2.66,1.28],[2.56,0.82],[2.44,0.72],[2.72,1.05],[2.84,0.72],[2.74,0.68],[2.96,1.08],[2.96,1.35],[2.2,1.25],[2.14,1],[2.3,1.02],[2.36,0.98],[3.08,2.58],[3.2,2.62],[3.26,2.48],[3.3,2.15],[3.34,2.32],[3.42,2.42],[3.4,1.92],[3.5,2.1],[3.58,2.3],[3.7,2.28],[3.74,2.42],[3.84,2.28],[3.92,2.22],[3.68,1.92],[3.78,1.72],[3.62,1.42],[3.46,1.55],[3.3,1.75],[3.38,1.42],[3.16,1.15],[3.22,0.88],[3.34,1.1],[3.46,1.02],[3.58,0.88],[3.68,0.86],[3.8,0.92],[3.92,0.9],[3.98,0.98],[3.96,1.62],[4.02,1.78],[4.1,1.82],[4.18,1.58],[4.28,1.48],[4.32,1.72],[4.4,1.7],[4.5,1.72],[4.58,1.78],[4.68,1.62],[4.78,1.72],[4.8,1.28],[4.68,1.42],[4.54,1.42],[4.46,1.32],[4.3,1.3],[4.2,1.22],[4.08,1.12],[4,0.82],[4.16,0.92],[4.32,0.78],[4.46,0.72],[4.62,0.92],[4.68,0.72],[4.92,1.08],[4.94,1.38],[4.9,0.88],[4.2,2.02],[4.34,2.32],[4.56,2.28],[4.78,2.12],[4.82,1.82],[5.08,1.32],[5.14,1.18],[5.28,1.18],[5.4,0.82],[5.18,0.68]
];

const W=2048,H=1152,L=274,R=1548,T=47,B=953;
const px=x=>(x-L)/(R-L), py=y=>(B-y)/(B-T);
const P=(x,y)=>px(x).toFixed(5)+','+py(y).toFixed(5);
function band(dy){
  const a=(x,y)=>P(x,y+dy);
  return 'M'+a(30,1069)+' C'+a(38,1071)+' '+a(46,1078)+' '+a(56,1078)+' C'+a(67,1078)+' '+a(72,1069)+' '+a(83,1069)+' C'+a(93,1069)+' '+a(100,1078)+' '+a(110,1078)+' C'+a(120,1078)+' '+a(126,1071)+' '+a(133,1069)
  +' L'+a(133,1083)+' C'+a(126,1085)+' '+a(120,1092)+' '+a(110,1092)+' C'+a(100,1092)+' '+a(93,1083)+' '+a(83,1083)+' C'+a(72,1083)+' '+a(67,1092)+' '+a(56,1092)+' C'+a(46,1092)+' '+a(38,1085)+' '+a(30,1083)+' Z';
}
const arcOuter='M'+P(1974,1073)+' C'+P(1995,1074)+' '+P(2012,1085)+' '+P(2013,1100);
const arcInner='M'+P(1977,1086)+' C'+P(1988,1087)+' '+P(1999,1093)+' '+P(2001,1102);
const blue='#0079BC', frame='#D9D9D9', txt='#595959', orange='#ED7D31';
const shapes=[
 {type:'rect',xref:'paper',yref:'paper',x0:px(111),x1:px(1944),y0:py(1050),y1:py(19),line:{color:frame,width:1.5},fillcolor:'rgba(0,0,0,0)',layer:'below'},
 {type:'rect',xref:'paper',yref:'paper',x0:px(0),x1:px(W),y0:py(H),y1:py(1046),line:{width:0},fillcolor:blue,layer:'above'},
 {type:'path',xref:'paper',yref:'paper',path:band(0),fillcolor:'#fff',line:{width:0},layer:'above'},
 {type:'path',xref:'paper',yref:'paper',path:band(19),fillcolor:'#fff',line:{width:0},layer:'above'},
 {type:'path',xref:'paper',yref:'paper',path:arcInner,line:{color:'#fff',width:6},layer:'above'},
 {type:'path',xref:'paper',yref:'paper',path:arcOuter,line:{color:'#fff',width:6},layer:'above'}
];
const ann=(text,x,y,size,color,extra)=>Object.assign({text,xref:'paper',yref:'paper',x:px(x),y:py(y),showarrow:false,xanchor:'left',yanchor:'middle',font:{size,color,family:'"Open Sans", sans-serif'}},extra||{});
const annotations=[
 ann('<b>y = 0.0794e</b><sup>-0.353x</sup>',1578,895,27,orange),
 ann('<b>R</b><sup>2</sup><b> = 0.284</b>',1621,933,27,orange),
 ann('<b><i>@larrykim #CTRHacks</i></b>',1024,1101,38.5,'#fff',{xanchor:'center'}),
 ann('WordStream',81,1123,17.3,'#fff',{xanchor:'center'}),
 ann('<b>Buzzsumo</b>',1633,1100,63,'#fff',{font:{size:63,color:'#fff',family:'"DejaVu Sans", sans-serif'}})
];
const common={mode:'lines',line:{shape:'spline',dash:'23px,15px',width:5},hoverinfo:'skip'};
const traces=[
 {type:'scatter',mode:'markers',name:'Sample Accounts',legendgroup:'a',x:sampleAccounts.map(p=>p[0]),y:sampleAccounts.map(p=>p[1]),marker:{size:8,color:'#5B9BD5'},cliponaxis:false},
 Object.assign({},common,{type:'scatter',name:'2x Expected CTR',legendgroup:'b',x:curveX,y:expected2x,line:Object.assign({},common.line,{color:'#70AD47'})}),
 Object.assign({},common,{type:'scatter',name:'3x Expected CTR',legendgroup:'c',x:curveX,y:expected3x,line:Object.assign({},common.line,{color:'#7030A0'})}),
 Object.assign({},common,{type:'scatter',name:'Expon. (Sample Accounts)',legendgroup:'d',x:curveX,y:exponFit,line:Object.assign({},common.line,{color:orange})})
];
const layout={
 width:W,height:H,autosize:false,
 margin:{l:L,r:W-R,t:T,b:H-B,pad:0},
 paper_bgcolor:'#fff',plot_bgcolor:'#fff',
 font:{family:'"Open Sans", sans-serif',size:21,color:txt},
 title:{text:'<b>Here’s a Map of The Forest</b>',x:559/W,xanchor:'left',y:1-130.5/H,yanchor:'middle',font:{size:76.6,color:'#3A6EBF',family:'"Liberation Sans", Arial, sans-serif'}},
 showlegend:true,
 legend:{x:px(1590),y:py(456),xanchor:'left',yanchor:'top',bgcolor:'rgba(0,0,0,0)',itemwidth:66,tracegroupgap:14.5,font:{size:21,color:txt},traceorder:'grouped',itemsizing:'trace'},
 xaxis:{range:[1,8],tickvals:xTicks,ticks:'',showgrid:true,gridcolor:frame,gridwidth:1.5,zeroline:false,showline:true,linecolor:'#CDCDCD',linewidth:2,mirror:true,ticklabelstandoff:10,tickfont:{size:21,color:txt},
   title:{text:'Average Postion',standoff:22,font:{size:23,color:txt}}},
 yaxis:{range:[0,20],tickvals:yTicks,ticktext:yTicks.map(v=>v.toFixed(2)+'%'),ticks:'',showgrid:true,gridcolor:frame,gridwidth:1.5,zeroline:false,showline:true,linecolor:'#CDCDCD',linewidth:2,mirror:true,ticklabelstandoff:15,tickfont:{size:21,color:txt},
   title:{text:'CTR',standoff:7,font:{size:22,color:txt}}},
 shapes,annotations
};
Plotly.newPlot('chart',traces,layout,{displayModeBar:false,staticPlot:true});
</script></body></html>
